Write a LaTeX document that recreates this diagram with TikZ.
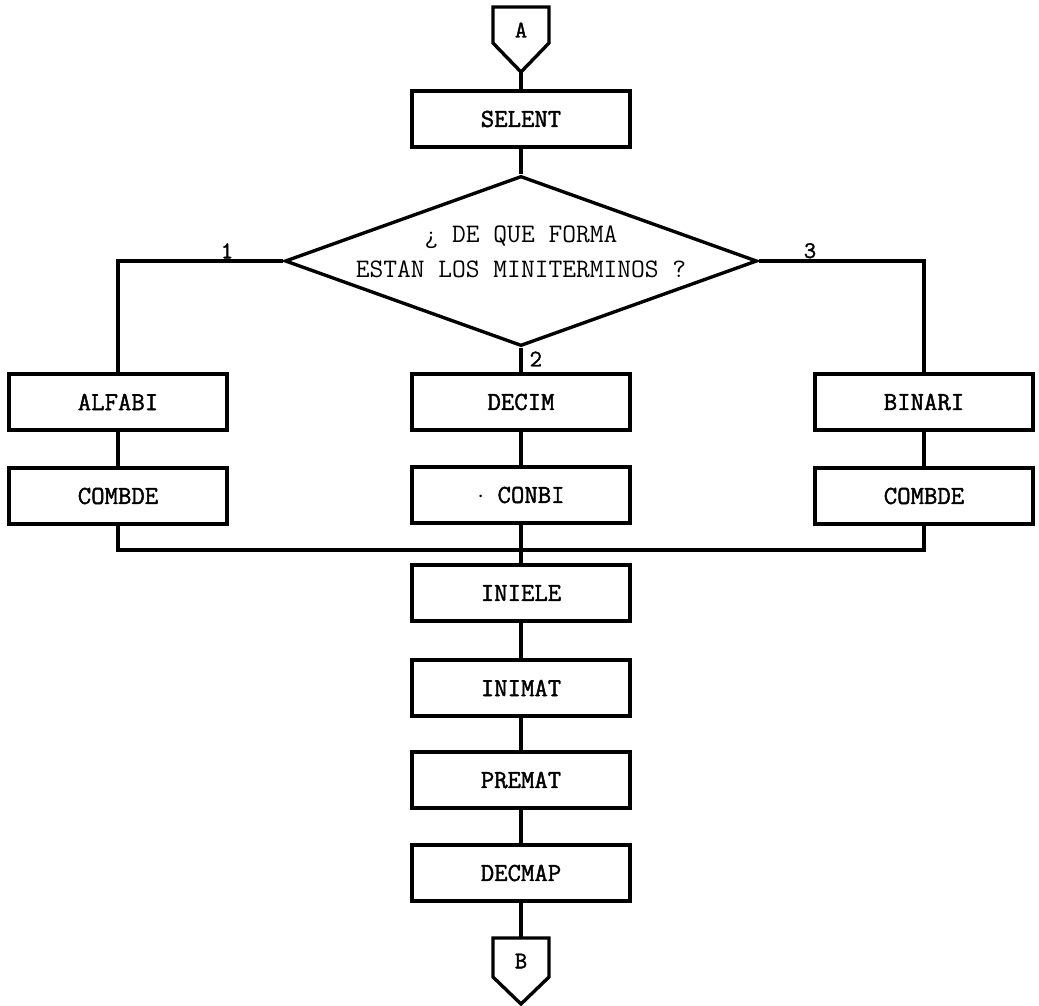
\documentclass[tikz,border=0pt]{standalone}
\usepackage{fontspec}
\usepackage{tikz}
\usetikzlibrary{shapes.geometric}
\newfontfamily\maquina{Latin Modern Mono}[AutoFakeBold=1.6]

\tikzset{
  caja/.style={draw, line width=2.4pt, minimum width=5.45cm, minimum height=1.4cm, inner sep=0pt,
               font=\fontsize{18.5}{20}\selectfont\maquina\bfseries},
  decision/.style={draw, diamond, aspect=2.78, line width=2.4pt, minimum width=11.8cm, minimum height=4.25cm, inner sep=0pt},
  pregunta/.style={align=center, inner sep=0pt, font=\fontsize{19}{25}\selectfont\maquina},
  etiq/.style={inner sep=1pt, font=\fontsize{17}{19}\selectfont\maquina\bfseries},
  linea/.style={line width=2.4pt}
}

\begin{document}
\begin{tikzpicture}[x=0.025cm, y=-0.025cm] %%% coordinates in pixels of the scanned page
      \useasboundingbox (0,0) rectangle (1039,1006);

      %%% off-page connector A
      \draw[linea] (493,7) -- (549,7) -- (549,43) -- (521,72) -- (493,43) -- cycle;
      \node[etiq] (A) at (521,30) {A};
      \coordinate (Atip) at (521,72);

      \node[caja] (selent) at (521,119) {SELENT};
      \node[decision] (forma) at (521,261) {};
      \node[pregunta] (texto) at (521,252) {¿ DE QUE FORMA\\ESTAN LOS MINITERMINOS ?};

      \node[caja] (alfabi)  at (118,402) {ALFABI};
      \node[caja] (decim)   at (521,402) {DECIM};
      \node[caja] (binari)  at (924,402) {BINARI};

      \node[caja] (combdeA) at (118,496) {COMBDE};
      \node[caja] (conbi)   at (521,495) {$\cdot$ CONBI};
      \node[caja] (combdeB) at (924,496) {COMBDE};

      \node[caja] (iniele)  at (521,593) {INIELE};
      \node[caja] (inimat)  at (521,688) {INIMAT};
      \node[caja] (premat)  at (521,780) {PREMAT};
      \node[caja] (decmap)  at (521,873) {DECMAP};

      %%% off-page connector B
      \draw[linea] (493,938) -- (549,938) -- (549,977) -- (521,1004) -- (493,977) -- cycle;
      \node[etiq] (B) at (521,961) {B};
      \coordinate (Btop) at (521,938);

      %%% branch labels
      \node[etiq, anchor=south] (uno)  at (227,260) {1};
      \node[etiq, anchor=south] (tres) at (810,260) {3};
      \node[etiq, anchor=west]  (dos)  at (528,359) {2};

      \coordinate (union) at (521,550);

      \draw[linea] (Atip) -- (selent);
      \draw[linea] (selent) -- (forma.north);
      \draw[linea] (forma.west) -| (alfabi.north);
      \draw[linea] (forma.east) -| (binari.north);
      \draw[linea] (forma.south) -- (decim.north);

      \draw[linea] (alfabi) -- (combdeA);
      \draw[linea] (decim)  -- (conbi);
      \draw[linea] (binari) -- (combdeB);

      \draw[linea] (combdeA.south) |- (union) -| (combdeB.south); %% join of the three branches
      \draw[linea] (conbi) -- (iniele);
      \draw[linea] (iniele) -- (inimat);
      \draw[linea] (inimat) -- (premat);
      \draw[linea] (premat) -- (decmap);
      \draw[linea] (decmap) -- (Btop);
\end{tikzpicture}
\end{document}
